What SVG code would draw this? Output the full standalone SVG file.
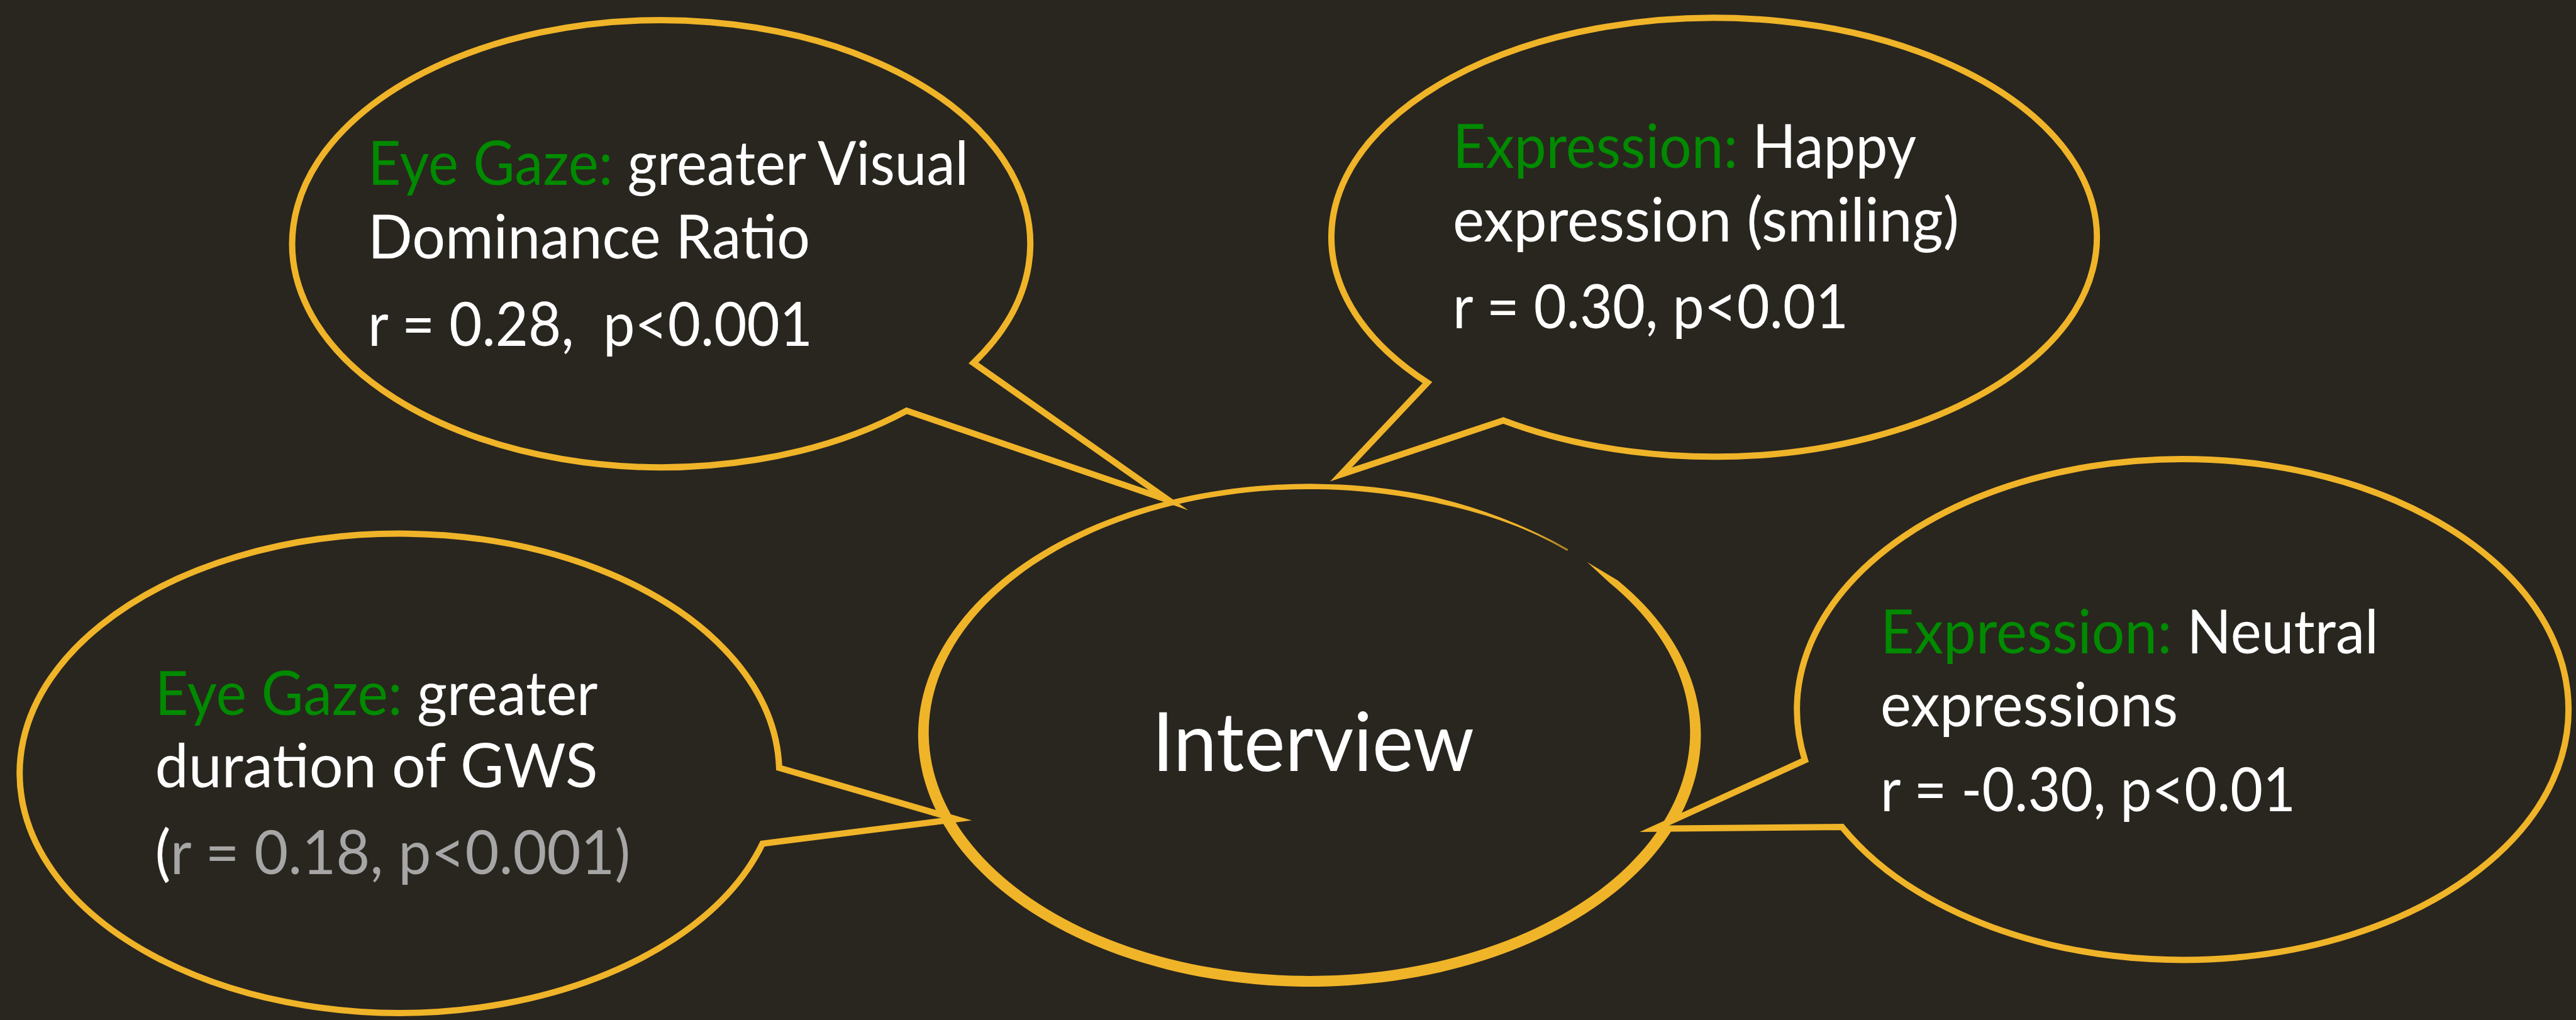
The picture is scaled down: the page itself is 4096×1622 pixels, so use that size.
<svg xmlns="http://www.w3.org/2000/svg" width="4096" height="1622" viewBox="0 0 4096 1622">
<style>
.bg{fill:#29261f}
.bub{fill:#29261f;stroke:#f0b429;stroke-width:10;stroke-linejoin:miter;stroke-miterlimit:20}
.ring{fill:#f0b429;fill-rule:evenodd}
.thin{fill:none;stroke:#f0b429;stroke-width:3;opacity:0.7}
.t{font-family:Lato,"Liberation Sans",sans-serif;font-size:96px;fill:#ffffff}
.g{fill:#008a00}
.gr{fill:#a6a6a6}
.big{font-family:Lato,"Liberation Sans",sans-serif;font-size:130px;fill:#ffffff;text-anchor:middle}
</style>
<rect class="bg" x="0" y="0" width="4096" height="1622"/>
<g id="interview">
<path class="ring" d="M2523.5,893.7 L2572.4,922.9 A622.3,399.8 0 1 1 2274.3,788.9 A622.3,399.8 0 0 1 2476.5,865.7 A605.3,387 0 0 0 2269,796.8 A605.3,387 0 1 0 2559,926.6 Z"/>
<path class="thin" d="M2271.7,792.8 A613.8,393.4 0 0 1 2492.7,874.7"/>
<text class="big" x="2088" y="1226" textLength="512" lengthAdjust="spacingAndGlyphs">Interview</text>
</g>
<g id="bubble-gaze-vdr">
<path class="bub" d="M1547.9,577.1 A586.8,355.5 0 1 0 1441.6,653.1 L1858.1,795.4 Z"/>
<text class="t" x="585" y="294" textLength="955" lengthAdjust="spacingAndGlyphs"><tspan class="g">Eye Gaze: </tspan>greater Visual</text>
<text class="t" x="585" y="410.5" textLength="703" lengthAdjust="spacingAndGlyphs">Dominance Ratio</text>
<text class="t" x="585" y="550" textLength="707" lengthAdjust="spacingAndGlyphs">r = 0.28,&#160; p&lt;0.001</text>
</g>
<g id="bubble-happy">
<path class="bub" d="M2390.5,668.6 A608.6,348.9 0 1 0 2269.7,608.5 L2132.1,754.6 Z"/>
<text class="t" x="2310" y="267.3" textLength="737" lengthAdjust="spacingAndGlyphs"><tspan class="g">Expression: </tspan>Happy</text>
<text class="t" x="2310" y="384" textLength="805" lengthAdjust="spacingAndGlyphs">expression (smiling)</text>
<text class="t" x="2310" y="522.3" textLength="629" lengthAdjust="spacingAndGlyphs">r = 0.30, p&lt;0.01</text>
</g>
<g id="bubble-gaze-gws">
<path class="bub" d="M1238.9,1221 A603.9,381.1 0 1 0 1212.4,1341.6 L1520.6,1302.6 Z"/>
<text class="t" x="246.5" y="1136.7" textLength="704" lengthAdjust="spacingAndGlyphs"><tspan class="g">Eye Gaze: </tspan>greater</text>
<text class="t" x="246.5" y="1252.3" textLength="704" lengthAdjust="spacingAndGlyphs">duration of GWS</text>
<text class="t" x="246.5" y="1389.8" textLength="756" lengthAdjust="spacingAndGlyphs">(<tspan class="gr">r = 0.18, p&lt;0.001)</tspan></text>
</g>
<g id="bubble-neutral">
<path class="bub" d="M2929,1315.1 A613.4,398.2 0 1 0 2870,1208.9 L2630.7,1317.7 Z"/>
<text class="t" x="2990" y="1039" textLength="792" lengthAdjust="spacingAndGlyphs"><tspan class="g">Expression: </tspan>Neutral</text>
<text class="t" x="2990" y="1154.7" textLength="473" lengthAdjust="spacingAndGlyphs">expressions</text>
<text class="t" x="2990" y="1290.2" textLength="660" lengthAdjust="spacingAndGlyphs">r = -0.30, p&lt;0.01</text>
</g>
<g id="connectors"></g>
</svg>
